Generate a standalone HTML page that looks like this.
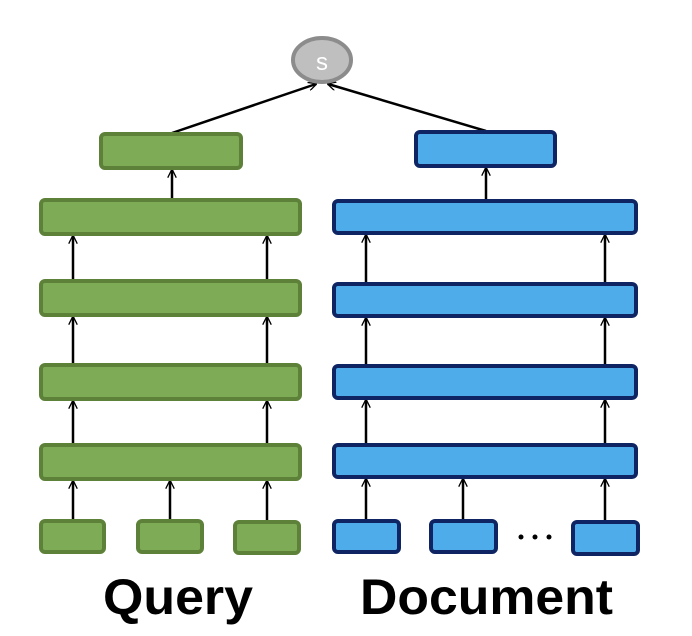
<!DOCTYPE html>
<html><head><style>body{margin:0;background:#fff}svg{display:block}</style></head><body>
<svg width="692" height="636" viewBox="0 0 692 636" xmlns="http://www.w3.org/2000/svg">
<defs><marker id="a" viewBox="0 0 10 10" refX="9" refY="5" markerWidth="3.5" markerHeight="3.5" orient="auto"><path d="M0,0 L10,5 L0,10" fill="none" stroke="#000" stroke-width="1.5"/></marker></defs>
<g stroke="#000" stroke-width="2.5" marker-end="url(#a)">
<line x1="172" y1="133" x2="316" y2="84"/>
<line x1="486" y1="131" x2="328" y2="84"/>
<line x1="172" y1="199" x2="172" y2="170"/>
<line x1="486" y1="200" x2="486" y2="168"/>
<line x1="73" y1="280" x2="73" y2="236"/><line x1="267" y1="280" x2="267" y2="236"/>
<line x1="73" y1="364" x2="73" y2="317"/><line x1="267" y1="364" x2="267" y2="317"/>
<line x1="73" y1="444" x2="73" y2="401"/><line x1="267" y1="444" x2="267" y2="401"/>
<line x1="73" y1="522" x2="73" y2="481"/><line x1="170" y1="522" x2="170" y2="481"/><line x1="267" y1="522" x2="267" y2="481"/>
<line x1="366" y1="283" x2="366" y2="235"/><line x1="605" y1="283" x2="605" y2="235"/>
<line x1="366" y1="365" x2="366" y2="318"/><line x1="605" y1="365" x2="605" y2="318"/>
<line x1="366" y1="444" x2="366" y2="400"/><line x1="605" y1="444" x2="605" y2="400"/>
<line x1="366" y1="522" x2="366" y2="479"/><line x1="463" y1="522" x2="463" y2="479"/><line x1="605" y1="523" x2="605" y2="479"/>
</g>
<ellipse cx="322" cy="60" rx="29" ry="22" fill="#bfbfbf" stroke="#8c8c8c" stroke-width="4"/>
<text x="322" y="70" font-family="Liberation Sans, sans-serif" font-size="24" fill="#fff" text-anchor="middle">s</text>
<g fill="#7eab55" stroke="#5e813a" stroke-width="4">
<rect x="101" y="134" width="140" height="34" rx="4"/>
<rect x="41" y="200" width="259" height="34" rx="4"/>
<rect x="41" y="281" width="259" height="34" rx="4"/>
<rect x="41" y="365" width="259" height="34" rx="4"/>
<rect x="41" y="445" width="259" height="34" rx="4"/>
<rect x="41" y="521" width="63" height="31" rx="4"/>
<rect x="138" y="521" width="64" height="31" rx="4"/>
<rect x="235" y="522" width="64" height="31" rx="4"/>
</g>
<g fill="#4eacea" stroke="#0e2463" stroke-width="4">
<rect x="416" y="132" width="139" height="34" rx="4"/>
<rect x="334" y="201" width="302" height="32" rx="4"/>
<rect x="334" y="284" width="302" height="32" rx="4"/>
<rect x="334" y="366" width="302" height="32" rx="4"/>
<rect x="334" y="445" width="302" height="32" rx="4"/>
<rect x="334" y="521" width="65" height="31" rx="4"/>
<rect x="431" y="521" width="65" height="31" rx="4"/>
<rect x="573" y="522" width="65" height="32" rx="4"/>
</g>
<g fill="#000"><circle cx="521" cy="537" r="2.5"/><circle cx="535" cy="537" r="2.5"/><circle cx="549" cy="537" r="2.5"/></g>
<g font-family="Liberation Sans, sans-serif" font-weight="bold" font-size="50" fill="#000">
<text x="103" y="614" textLength="150" lengthAdjust="spacingAndGlyphs">Query</text>
<text x="360" y="614" textLength="253" lengthAdjust="spacingAndGlyphs">Document</text>
</g>
</svg>
</body></html>
